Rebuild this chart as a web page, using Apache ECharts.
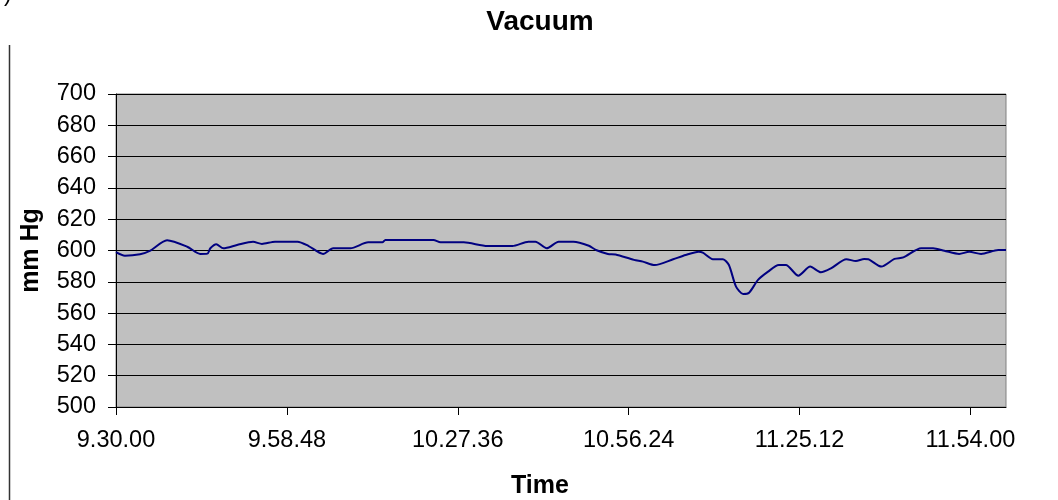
<!DOCTYPE html>
<html>
<head>
<meta charset="utf-8">
<script src="https://cdn.jsdelivr.net/npm/echarts@6/dist/echarts.min.js"></script>
<style>
html,body{margin:0;padding:0;background:#fff;}
#c{width:1058px;height:500px;}
</style>
</head>
<body>
<div id="c"></div>
<script>
// minutes after 9:30:00
const times = [0,1.5,4.05,5.7,8.6,12.0,14.2,15.4,15.9,16.9,18.1,20.4,23.1,24.6,26.8,30.6,32.4,34.9,36.6,39.5,42.5,44.9,45.4,53.5,54.7,58.6,62.6,66.8,69.5,70.7,72.6,74.6,77.1,79.7,80.9,82.9,84.2,87.3,88.8,90.8,93.9,96.0,98.2,98.9,100.6,102.3,103.3,104.5,105.7,106.7,108.2,109.9,111.7,112.9,115.0,117.0,118.8,120.5,123.1,124.7,126.1,126.8,129.0,131.2,132.7,135.7,137.7,139.6,142.1,143.8,145.8,148.7,150];
const vacuum = [599,596.7,597.6,599.7,606.5,602.4,597.8,598,601.4,604,601.4,603.5,605.6,604.2,605.6,605.6,603,597.8,601.4,601.4,605.2,605.2,606.7,606.7,605.2,605.2,602.9,602.9,605.6,605.6,601.4,605.6,605.6,603,600.3,597.8,597.5,594,592.9,590.7,594.4,597.1,599.2,598.6,594.4,594.4,590.7,576.9,572.2,573,581.2,586.5,590.7,590.7,583.9,589.7,586.1,588.6,594.4,593.3,594.6,594.4,589.7,594.6,595.6,601.4,601.4,599.9,597.8,599.2,597.8,600.3,600.3];
const xTicks = [0,28.8,57.6,86.4,115.2,144];
const yMin = 500, yMax = 700, yStep = 20;
const titleText = 'Vacuum', xTitle = 'Time', yTitle = 'mm Hg';

function fmtTime(m){
  let s = Math.round(m*60) + 9*3600 + 30*60;
  const h = Math.floor(s/3600); s -= h*3600;
  const mi = Math.floor(s/60); const se = s - mi*60;
  return h + '.' + String(mi).padStart(2,'0') + '.' + String(se).padStart(2,'0');
}

const font = 'Liberation Sans, Arial, sans-serif';
const chart = echarts.init(document.getElementById('c'), null, {renderer:'canvas'});
chart.setOption({
  animation:false,
  backgroundColor:'#fff',
  grid:{left:116, right:52, top:94, bottom:93, show:true, backgroundColor:'#C0C0C0', borderColor:'#808080', borderWidth:1, containLabel:false},
  xAxis:{
    type:'value', min:0, max:150,
    axisLine:{show:true, onZero:false, lineStyle:{color:'#000', width:1}},
    axisTick:{show:true, inside:false, length:8, customValues:xTicks, lineStyle:{color:'#000'}},
    axisLabel:{customValues:xTicks, formatter:fmtTime, margin:22, fontFamily:font, fontSize:23.5, color:'#000'},
    splitLine:{show:false}
  },
  yAxis:{
    type:'value', min:yMin, max:yMax, interval:yStep,
    name:yTitle, nameLocation:'middle', nameGap:72,
    nameTextStyle:{fontFamily:font, fontSize:25, fontWeight:'bold', color:'#000'},
    axisLine:{show:true, lineStyle:{color:'#000', width:1}},
    axisTick:{show:true, inside:false, length:8, lineStyle:{color:'#000'}},
    axisLabel:{margin:20, fontFamily:font, fontSize:23.5, color:'#000'},
    splitLine:{show:true, lineStyle:{color:'#000', width:1}}
  },
  series:[{
    type:'line', data: times.map((t,i)=>[t, vacuum[i]]),
    showSymbol:false, smooth:0.25, clip:false,
    lineStyle:{color:'#000080', width:2}
  }],
  graphic:[
    {type:'text', x:540, y:22, style:{text:titleText, fontFamily:font, fontSize:28, fontWeight:'bold', fill:'#000', align:'center', verticalAlign:'middle'}},
    {type:'text', x:540, y:486, style:{text:xTitle, fontFamily:font, fontSize:25, fontWeight:'bold', fill:'#000', align:'center', verticalAlign:'middle'}},
    {type:'line', shape:{x1:9.5, y1:45, x2:9.5, y2:500}, style:{stroke:'#333', lineWidth:1.5}},
    {type:'text', x:4, y:-17, style:{text:')', fontFamily:font, fontSize:23, fill:'#000'}}
  ]
});
</script>
</body>
</html>
